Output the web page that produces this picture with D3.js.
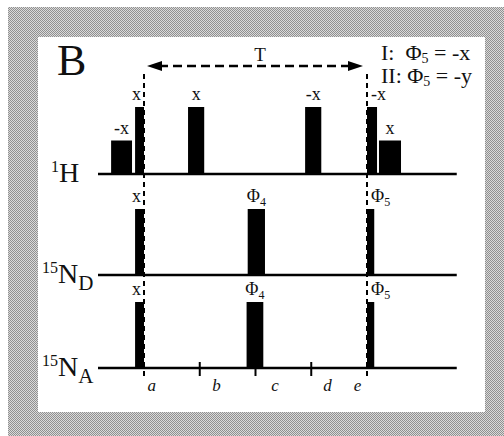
<!DOCTYPE html>
<html>
<head>
<meta charset="utf-8">
<script src="https://cdn.jsdelivr.net/npm/d3@7"></script>
<style>
  body { margin: 0; background: #fff; }
  text { font-family: "Liberation Serif", "DejaVu Serif", serif; fill: #111; white-space: pre; }
</style>
</head>
<body>
<div id="chart"></div>
<script>
// time in units of tau/4 : point a = 0, point e = 4
const channels = ["1H", "15ND", "15NA"];
const points = ["a", "b", "c", "d", "e"];
const pointTimes = [0, 1, 2, 3, 4];
const pointLabelTimes = [0.14, 1.3, 2.35, 3.29, 3.83];
const lineSpan = [-0.825, 5.61];

// pulses: start, end, relative amplitude, phase label
const hPulses = [
  { start: -0.59, end: -0.215, amp: 0.5, phase: "-x" },
  { start: -0.16, end: 0, amp: 1, phase: "x" },
  { start: 0.79, end: 1.08, amp: 1, phase: "x" },
  { start: 2.89, end: 3.18, amp: 1, phase: "-x" },
  { start: 4, end: 4.18, amp: 1, phase: "-x" },
  { start: 4.215, end: 4.61, amp: 0.5, phase: "x" }
];
const ndPulses = [
  { start: -0.16, end: 0, amp: 1, phase: "x" },
  { start: 1.86, end: 2.17, amp: 1, phase: "Φ4" },
  { start: 4, end: 4.13, amp: 1, phase: "Φ5" }
];
const naPulses = [
  { start: -0.16, end: 0, amp: 1, phase: "x" },
  { start: 1.84, end: 2.14, amp: 1, phase: "Φ4" },
  { start: 4, end: 4.13, amp: 1, phase: "Φ5" }
];
const pulses = { "1H": hPulses, "15ND": ndPulses, "15NA": naPulses };
const legendLines = [["I:  Φ", "5", " = -x"], ["II: Φ", "5", " = -y"]];

const width = 504, height = 436;

const x = d3.scaleLinear().domain([0, 4]).range([144, 367]);
const base = d3.scaleOrdinal().domain(channels).range([174, 275, 368]);
const ampH = { "1H": 67, "15ND": 66, "15NA": 66 };

const svg = d3.select("#chart").append("svg")
  .attr("width", width).attr("height", height);

// dithered grey frame
const pat = svg.append("defs").append("pattern")
  .attr("id", "dither").attr("width", 2).attr("height", 2)
  .attr("patternUnits", "userSpaceOnUse");
pat.append("rect").attr("width", 2).attr("height", 2).attr("fill", "#dadada");
pat.append("rect").attr("width", 1).attr("height", 1).attr("fill", "#909090");
pat.append("rect").attr("x", 1).attr("y", 1).attr("width", 1).attr("height", 1).attr("fill", "#909090");

svg.append("rect").attr("x", 8).attr("y", 7).attr("width", width - 8).attr("height", height - 7)
  .attr("fill", "url(#dither)");
svg.append("rect").attr("x", 38).attr("y", 37).attr("width", 447).attr("height", 375)
  .attr("fill", "#fff");

svg.append("text").attr("x", 57).attr("y", 75)
  .attr("font-size", 44).text("B");

// channel baselines
svg.selectAll("line.base").data(channels).enter().append("line")
  .attr("x1", x(lineSpan[0])).attr("x2", x(lineSpan[1]))
  .attr("y1", d => base(d)).attr("y2", d => base(d))
  .attr("stroke", "#000").attr("stroke-width", 2.5);

// pulses
channels.forEach(ch => {
  const g = svg.append("g");
  const y0 = base(ch);
  g.selectAll("rect").data(pulses[ch]).enter().append("rect")
    .attr("x", d => x(d.start))
    .attr("y", d => y0 - d.amp * ampH[ch])
    .attr("width", d => x(d.end) - x(d.start))
    .attr("height", d => d.amp * ampH[ch])
    .attr("fill", "#000");

  const lab = g.selectAll("text").data(pulses[ch]).enter().append("text")
    .attr("font-size", 18)
    .attr("y", d => y0 - d.amp * ampH[ch] - 7)
    .attr("x", d => d.end === 0 ? x(d.end) - 3 : d.start === 4 ? x(d.start) + 4 : (x(d.start) + x(d.end)) / 2)
    .attr("text-anchor", d => d.end === 0 ? "end" : d.start === 4 ? "start" : "middle");
  lab.each(function(d) {
    const t = d3.select(this);
    if (d.phase.startsWith("Φ")) {
      t.append("tspan").text("Φ");
      t.append("tspan").attr("font-size", 12).attr("dy", 4).text(d.phase.slice(1));
    } else {
      t.text(d.phase);
    }
  });
});

// channel names
const nameG = svg.append("g");
const nm1 = nameG.append("text").attr("x", 51).attr("y", base("1H") + 8).attr("font-size", 28);
nm1.append("tspan").attr("font-size", 16).attr("dy", -10).text("1");
nm1.append("tspan").attr("dy", 10).text("H");
[["15ND", "D"], ["15NA", "A"]].forEach(([ch, s]) => {
  const t = nameG.append("text").attr("x", 42).attr("y", base(ch) + 8).attr("font-size", 28);
  t.append("tspan").attr("font-size", 16).attr("dy", -10).text("15");
  t.append("tspan").attr("dy", 10).text("N");
  t.append("tspan").attr("font-size", 21).attr("dy", 7).text(s);
});

// dashed verticals at a and e
svg.selectAll("line.vd").data([pointTimes[0], pointTimes[4]]).enter().append("line")
  .attr("x1", d => x(d)).attr("x2", d => x(d))
  .attr("y1", 74).attr("y2", base("15NA") + 8)
  .attr("stroke", "#000").attr("stroke-width", 2).attr("stroke-dasharray", "5,4");

// ticks at b, c, d
svg.selectAll("line.tick").data(pointTimes.slice(1, 4)).enter().append("line")
  .attr("x1", d => x(d)).attr("x2", d => x(d))
  .attr("y1", base("15NA") - 6).attr("y2", base("15NA") + 8)
  .attr("stroke", "#000").attr("stroke-width", 2);

svg.selectAll("text.pt").data(points).enter().append("text")
  .attr("x", (d, i) => x(pointLabelTimes[i])).attr("y", 391)
  .attr("text-anchor", "middle").attr("font-style", "italic").attr("font-size", 17)
  .text(d => d);

// tau arrow
const ay = 66;
const ax0 = x(0) + 3, ax1 = x(4) - 4;
svg.append("line").attr("x1", ax0 + 12).attr("x2", ax1 - 12).attr("y1", ay).attr("y2", ay)
  .attr("stroke", "#000").attr("stroke-width", 2.5).attr("stroke-dasharray", "9,5");
svg.append("path").attr("d", `M${ax0},${ay}L${ax0 + 15},${ay - 5}L${ax0 + 15},${ay + 5}Z`);
svg.append("path").attr("d", `M${ax1},${ay}L${ax1 - 15},${ay - 5}L${ax1 - 15},${ay + 5}Z`);
svg.append("text").attr("x", x(2.08)).attr("y", 61).attr("text-anchor", "middle")
  .attr("font-size", 19).text("T");

// phase legend
legendLines.forEach((parts, i) => {
  const t = svg.append("text").attr("x", 381).attr("y", 60 + i * 23).attr("font-size", 22);
  t.append("tspan").text(parts[0]);
  t.append("tspan").attr("font-size", 14).attr("dy", 3).text(parts[1]);
  t.append("tspan").attr("dy", -3).text(parts[2]);
});
</script>
</body>
</html>
